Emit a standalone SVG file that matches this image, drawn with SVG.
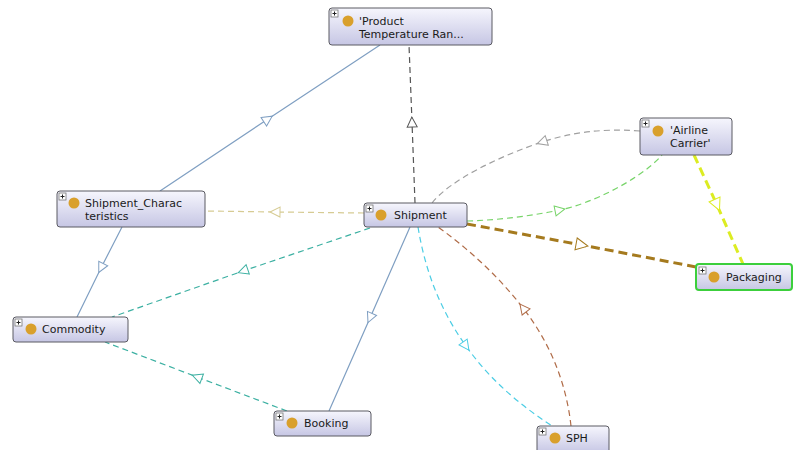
<svg xmlns="http://www.w3.org/2000/svg" width="793" height="450" viewBox="0 0 793 450">
<style>
  .box { fill: url(#nodeGrad); stroke: #5a5a62; stroke-width: 1; }
  .sel { stroke: #3ccf3c; stroke-width: 2; }
  .lbl { font-family: "DejaVu Sans", "Liberation Sans", sans-serif; font-size: 11px; fill: #1a1a1a; }
  .dot { fill: #d9a02c; }
  .pb { fill: #ffffff; stroke: #777; stroke-width: 0.8; }
  .pp { stroke: #222; stroke-width: 1; }
  .e { fill: none; }
  .solid { stroke: #7f9fc2; stroke-width: 1.2; }
  .d { stroke-dasharray: 6 4; stroke-width: 1.2; }
  .thick { stroke-dasharray: 9 5; stroke-width: 3; }
</style>
<defs>
  <linearGradient id="nodeGrad" x1="0" y1="0" x2="0" y2="1">
    <stop offset="0" stop-color="#f6f6fd"/>
    <stop offset="1" stop-color="#c6c6e4"/>
  </linearGradient>
  <marker id="mBlue" markerUnits="userSpaceOnUse" markerWidth="14" markerHeight="14" refX="5" refY="5" orient="auto" viewBox="0 0 14 10" overflow="visible"><path d="M0,0 L10,5 L0,10 Z" fill="#fff" stroke="#7f9fc2" stroke-width="1"/></marker>
  <marker id="mDark" markerUnits="userSpaceOnUse" markerWidth="14" markerHeight="14" refX="5" refY="5" orient="auto" viewBox="0 0 14 10" overflow="visible"><path d="M0,0 L10,5 L0,10 Z" fill="#fff" stroke="#555" stroke-width="1"/></marker>
  <marker id="mBeige" markerUnits="userSpaceOnUse" markerWidth="14" markerHeight="14" refX="5" refY="5" orient="auto" viewBox="0 0 14 10" overflow="visible"><path d="M0,0 L10,5 L0,10 Z" fill="#fff" stroke="#d6cb93" stroke-width="1"/></marker>
  <marker id="mTeal" markerUnits="userSpaceOnUse" markerWidth="14" markerHeight="14" refX="5" refY="5" orient="auto" viewBox="0 0 14 10" overflow="visible"><path d="M0,0 L10,5 L0,10 Z" fill="#fff" stroke="#3cb0a2" stroke-width="1"/></marker>
  <marker id="mCyan" markerUnits="userSpaceOnUse" markerWidth="14" markerHeight="14" refX="5" refY="5" orient="auto" viewBox="0 0 14 10" overflow="visible"><path d="M0,0 L10,5 L0,10 Z" fill="#fff" stroke="#4ccde4" stroke-width="1"/></marker>
  <marker id="mBrown" markerUnits="userSpaceOnUse" markerWidth="14" markerHeight="14" refX="5" refY="5" orient="auto" viewBox="0 0 14 10" overflow="visible"><path d="M0,0 L10,5 L0,10 Z" fill="#fff" stroke="#b06c48" stroke-width="1"/></marker>
  <marker id="mGold" markerUnits="userSpaceOnUse" markerWidth="16" markerHeight="16" refX="6" refY="6" orient="auto" viewBox="0 0 16 12" overflow="visible"><path d="M0,0 L12,6 L0,12 Z" fill="#fff" stroke="#a57a1e" stroke-width="1"/></marker>
  <marker id="mYellow" markerUnits="userSpaceOnUse" markerWidth="16" markerHeight="16" refX="6" refY="6" orient="auto" viewBox="0 0 16 12" overflow="visible"><path d="M0,0 L12,6 L0,12 Z" fill="#fff" stroke="#dcec22" stroke-width="1"/></marker>
  <marker id="mGray" markerUnits="userSpaceOnUse" markerWidth="14" markerHeight="14" refX="5" refY="5" orient="auto" viewBox="0 0 14 10" overflow="visible"><path d="M0,0 L10,5 L0,10 Z" fill="#fff" stroke="#a0a0a0" stroke-width="1"/></marker>
  <marker id="mGreen" markerUnits="userSpaceOnUse" markerWidth="14" markerHeight="14" refX="5" refY="5" orient="auto" viewBox="0 0 14 10" overflow="visible"><path d="M0,0 L10,5 L0,10 Z" fill="#fff" stroke="#78d46a" stroke-width="1"/></marker>
</defs>
<rect width="793" height="450" fill="#ffffff"/>
<g id="connectors">
  <path class="e solid" d="M160,191 L268,119 L380,45" marker-mid="url(#mBlue)"/>
  <path class="e d" stroke="#555" d="M415,203 L412,122 L409,45" marker-mid="url(#mDark)"/>
  <path class="e solid" d="M122,227 L101,268 L77,317" marker-mid="url(#mBlue)"/>
  <path class="e d" stroke="#d6cb93" d="M364,213 L275,212 L205,211" marker-mid="url(#mBeige)"/>
  <path class="e d" stroke="#3cb0a2" d="M370,228 L243,271 L112,317" marker-mid="url(#mTeal)"/>
  <path class="e d" stroke="#3cb0a2" d="M287,411 L197,377 L105,342" marker-mid="url(#mTeal)"/>
  <path class="e solid" d="M410,227 L370,318 L329,411" marker-mid="url(#mBlue)"/>
  <path class="e d" stroke="#4ccde4" d="M418,227 C425,270 440,310 466,346 C490,380 520,405 552,426" marker-mid="url(#mCyan)"/>
  <path class="e d" stroke="#b06c48" d="M571,426 C566,380 548,340 523,308 C500,278 470,250 438,227" marker-mid="url(#mBrown)"/>
  <path class="e thick" stroke="#a57a1e" d="M467,224 L582,245 L696,267" marker-mid="url(#mGold)"/>
  <path class="e thick" stroke="#dcec22" d="M694,155 L717,205 L743,264" marker-mid="url(#mYellow)"/>
  <path class="e d" stroke="#a0a0a0" d="M640,131 C600,128 570,133 542,142 C500,156 450,180 432,203" marker-mid="url(#mGray)"/>
  <path class="e d" stroke="#78d46a" d="M467,221 C500,220 530,216 560,210 C590,204 640,180 662,155" marker-mid="url(#mGreen)"/>
</g>
<g id="node-product">
  <rect class="box" x="329" y="8" width="163" height="37" rx="3"/>
  <rect class="pb" x="331" y="10" width="7" height="7"/><path class="pp" d="M332.5,13.5 H336.5 M334.5,11.5 V15.5"/>
  <circle class="dot" cx="348" cy="21" r="5.5"/>
  <text class="lbl" x="359" y="25">'Product</text>
  <text class="lbl" x="359" y="38">Temperature Ran...</text>
</g>
<g id="node-airline">
  <rect class="box" x="640" y="118" width="92" height="37" rx="3"/>
  <rect class="pb" x="642" y="120" width="7" height="7"/><path class="pp" d="M643.5,123.5 H647.5 M645.5,121.5 V125.5"/>
  <circle class="dot" cx="658" cy="131" r="5.5"/>
  <text class="lbl" x="670" y="134">'Airline</text>
  <text class="lbl" x="670" y="147">Carrier'</text>
</g>
<g id="node-shipment-characteristics">
  <rect class="box" x="57" y="191" width="148" height="36" rx="3"/>
  <rect class="pb" x="59" y="193" width="7" height="7"/><path class="pp" d="M60.5,196.5 H64.5 M62.5,194.5 V198.5"/>
  <circle class="dot" cx="74" cy="203" r="5.5"/>
  <text class="lbl" x="85" y="207">Shipment_Charac</text>
  <text class="lbl" x="85" y="220">teristics</text>
</g>
<g id="node-shipment">
  <rect class="box" x="364" y="203" width="103" height="24" rx="3"/>
  <rect class="pb" x="366" y="205" width="7" height="7"/><path class="pp" d="M367.5,208.5 H371.5 M369.5,206.5 V210.5"/>
  <circle class="dot" cx="381" cy="215" r="5.5"/>
  <text class="lbl" x="394" y="219">Shipment</text>
</g>
<g id="node-packaging">
  <rect class="box sel" x="696" y="264" width="96" height="26" rx="3"/>
  <rect class="pb" x="699" y="267" width="7" height="7"/><path class="pp" d="M700.5,270.5 H704.5 M702.5,268.5 V272.5"/>
  <circle class="dot" cx="714" cy="277" r="5.5"/>
  <text class="lbl" x="726" y="281">Packaging</text>
</g>
<g id="node-commodity">
  <rect class="box" x="13" y="317" width="115" height="25" rx="3"/>
  <rect class="pb" x="15" y="319" width="7" height="7"/><path class="pp" d="M16.5,322.5 H20.5 M18.5,320.5 V324.5"/>
  <circle class="dot" cx="31" cy="329" r="5.5"/>
  <text class="lbl" x="42" y="333">Commodity</text>
</g>
<g id="node-booking">
  <rect class="box" x="274" y="411" width="97" height="25" rx="3"/>
  <rect class="pb" x="276" y="413" width="7" height="7"/><path class="pp" d="M277.5,416.5 H281.5 M279.5,414.5 V418.5"/>
  <circle class="dot" cx="292" cy="423" r="5.5"/>
  <text class="lbl" x="304" y="427">Booking</text>
</g>
<g id="node-sph">
  <rect class="box" x="537" y="426" width="72" height="27" rx="3"/>
  <rect class="pb" x="539" y="428" width="7" height="7"/><path class="pp" d="M540.5,431.5 H544.5 M542.5,429.5 V433.5"/>
  <circle class="dot" cx="555" cy="438" r="5.5"/>
  <text class="lbl" x="566" y="442">SPH</text>
</g>
</svg>
